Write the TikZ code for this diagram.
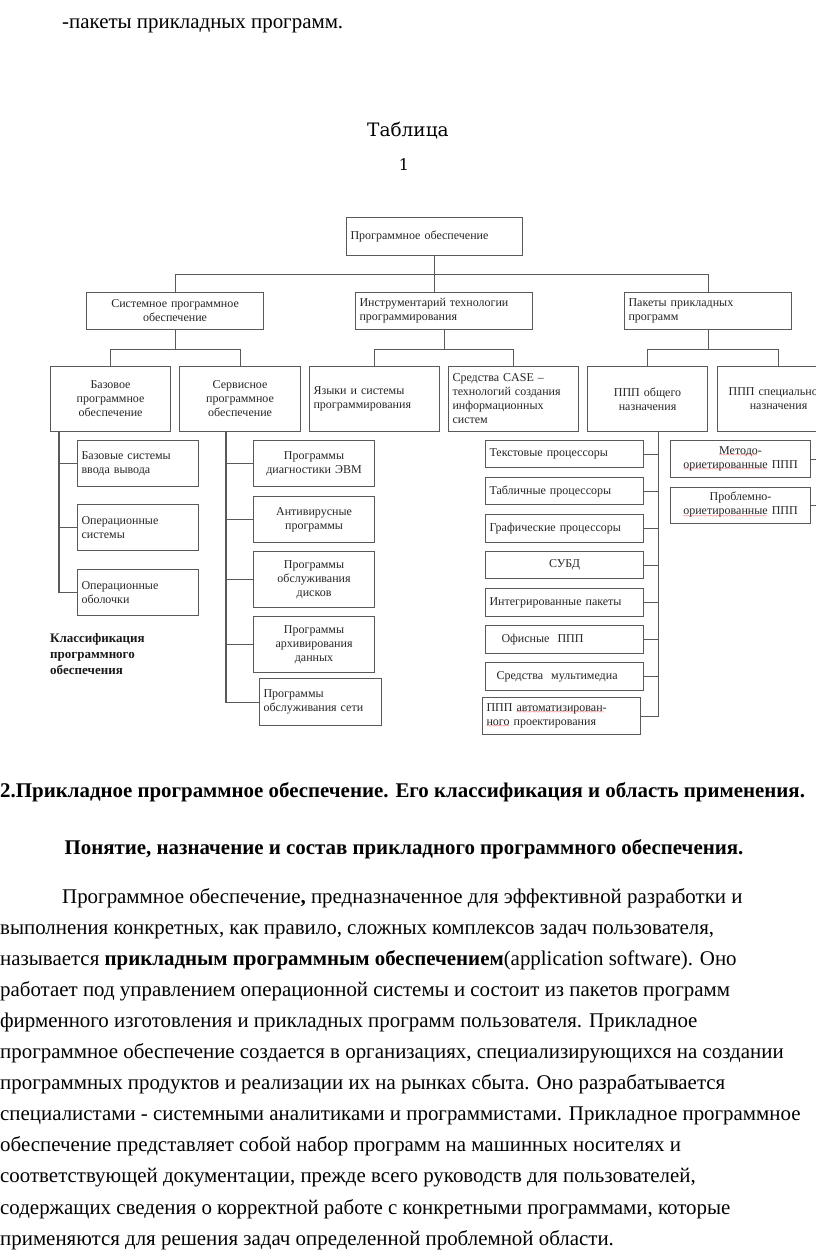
\documentclass[tikz,border=0pt]{standalone}
\usepackage{fontspec}
\setmainfont{Liberation Serif}
\newfontfamily\capfont{DejaVu Serif}
\usetikzlibrary{positioning}

% red spell-check squiggle under a word
\newcommand\spellwave[1]{\leavevmode\setbox0\hbox{#1}\rlap{\lower3.8pt\hbox to \wd0{\color{red!80}\leaders\hbox{\fontsize{7}{7}\selectfont\char"007E}\hfill}}#1}

\begin{document}
\begin{tikzpicture}[x=1pt, y=-1pt,
    box/.style={draw=black!65, line width=1.1pt, anchor=north west, inner xsep=4pt, inner ysep=1pt,
        font=\fontsize{12}{14}\selectfont, text=black!85, align=center},
    lbox/.style={box, align=left},
    link/.style={draw=black!65, line width=1.1pt},
    body/.style={anchor=base west, inner sep=0pt, font=\fontsize{20.9}{31}\selectfont},
    head/.style={body, font=\bfseries\fontsize{20.9}{31}\selectfont},
]
    \fill[white] (0,0) rectangle (816,1258);
    \useasboundingbox (0,0) rectangle (816,1258);

    % Text above the scheme
    \node[body] (l0) at (62,28) {-пакеты прикладных программ.};
    \node[font=\capfont\fontsize{18.5}{22}\selectfont] (tabcap) at (408,131) {Таблица};
    \node[font=\capfont\fontsize{16}{20}\selectfont] (tabnum) at (404,165) {1};

    % Level 1
    \node[lbox, text width=168pt, minimum height=38pt] (po) at (346,217) {Программное обеспечение};

    % Level 2
    \node[box, text width=169pt, minimum height=37pt] (sys) at (86,292) {Системное программное\\обеспечение};
    \node[lbox, text width=169pt, minimum height=37pt] (instr) at (355,292) {Инструментарий технологии\\программирования};
    \node[lbox, text width=159pt, minimum height=37pt] (pkt) at (624,292) {Пакеты прикладных\\программ};

    % Level 3
    \node[box, text width=112pt, minimum height=65pt] (base) at (50,366) {Базовое\\программное\\обеспечение};
    \node[box, text width=113pt, minimum height=65pt] (serv) at (179,366) {Сервисное\\программное\\обеспечение};
    \node[lbox, text width=122pt, minimum height=65pt] (lang) at (309,366) {Языки и системы\\программирования};
    \node[lbox, text width=122pt, minimum height=65pt] (cases) at (448,366) {Средства CASE –\\технологий создания\\информационных\\систем};
    \node[box, text width=112pt, minimum height=65pt] (pppob) at (587,366) {ППП общего\\назначения};
    \node[box, text width=114pt, minimum height=65pt] (pppsp) at (717,366) {ППП специального\\назначения};

    % Base software
    \node[lbox, text width=113pt, minimum height=46pt] (bios) at (77,440) {Базовые системы\\ввода вывода};
    \node[lbox, text width=113pt, minimum height=46pt] (os) at (77,504) {Операционные\\системы};
    \node[lbox, text width=113pt, minimum height=46pt] (shell) at (77,569) {Операционные\\оболочки};
    \node[anchor=north west, align=left, inner sep=0pt, font=\bfseries\fontsize{13}{16}\selectfont, text=black!90] (klass) at (50,633)
        {Классификация\\программного\\обеспечения};

    % Service software
    \node[box, text width=113pt, minimum height=46pt] (diag) at (253,440) {Программы\\диагностики ЭВМ};
    \node[box, text width=113pt, minimum height=46pt] (antiv) at (253,496) {Антивирусные\\программы};
    \node[box, text width=113pt, minimum height=56pt] (disk) at (253,551) {Программы\\обслуживания\\дисков};
    \node[box, text width=113pt, minimum height=56pt] (arch) at (253,616) {Программы\\архивирования\\данных};
    \node[lbox, text width=114pt, minimum height=47pt] (net) at (259,678) {Программы\\обслуживания сети};

    % General purpose packages
    \node[lbox, text width=150pt, minimum height=27pt] (txt) at (485,440) {Текстовые процессоры};
    \node[lbox, text width=150pt, minimum height=27pt] (spread) at (485,477) {Табличные процессоры};
    \node[lbox, text width=150pt, minimum height=28pt] (graph) at (485,514) {Графические процессоры};
    \node[box, text width=150pt, minimum height=27pt] (dbms) at (485,551) {СУБД};
    \node[lbox, text width=150pt, minimum height=28pt] (integ) at (485,588) {Интегрированные пакеты};
    \node[lbox, text width=150pt, minimum height=28pt] (office) at (485,625) {\hspace*{12pt}Офисные\ \ ППП};
    \node[lbox, text width=150pt, minimum height=28pt] (media) at (485,662) {\hspace*{7pt}Средства\ \ мультимедиа};
    \node[lbox, text width=150pt, minimum height=37pt] (auto) at (482,697) {ППП \spellwave{автоматизирован-}\\\spellwave{ного} проектирования};

    % Special purpose packages
    \node[box, text width=132pt, minimum height=37pt] (metod) at (670,440) {\spellwave{Методо}-\\\spellwave{ориетированные} ППП};
    \node[box, text width=132pt, minimum height=36pt] (probl) at (670,487) {Проблемно-\\\spellwave{ориетированные} ППП};

    % Connectors
    \draw[link] (po.south) -- (po.south |- instr.north);
    \draw[link] (sys.north) |- ([yshift=-18pt]po.south) -| (pkt.north);
    \draw[link] (sys.south) -- ++(0,19);
    \draw[link] (base.north) |- ([yshift=-19pt]sys.south) -| (serv.north);
    \draw[link] (instr.south) -- ++(0,19);
    \draw[link] (lang.north) |- ([yshift=-19pt]instr.south) -| (cases.north);
    \draw[link] (pkt.south) -- ++(0,19);
    \draw[link] (pppob.north) |- ([yshift=-19pt]pkt.south) -| (pppsp.north);

    \coordinate (bv) at ([xshift=9pt]base.south west);
    \foreach \n in {bios,os,shell}
        \draw[link] (bv) |- (\n.west);
    \coordinate (sv) at ([xshift=47pt]serv.south west);
    \foreach \n in {diag,antiv,disk,arch,net}
        \draw[link] (sv) |- (\n.west);
    \coordinate (pv) at ([xshift=11pt]pppob.south);
    \foreach \n in {txt,spread,graph,dbms,integ,office,media,auto}
        \draw[link] (pv) |- (\n.east);
    \coordinate (qv) at ([xshift=45pt]pppsp.south);
    \foreach \n in {metod,probl}
        \draw[link] (qv) |- (\n.east);

    % Text below the scheme
    \node[head] (h1) at (0,797) {2.Прикладное программное обеспечение. Его классификация и область применения.};
    \node[head, anchor=base] (h2) at (404,854) {Понятие, назначение и состав прикладного программного обеспечения.};

    \node[body] (b1) at (62,903) {Программное обеспечение\textbf{,} предназначенное для эффективной разработки и};
    \foreach \t [count=\i from 2] in {
        {выполнения конкретных, как правило, сложных комплексов задач пользователя,},
        {называется \textbf{прикладным программным обеспечением}(application software). Оно},
        {работает под управлением операционной системы и состоит из пакетов программ},
        {фирменного изготовления и прикладных программ пользователя. Прикладное},
        {программное обеспечение создается в организациях, специализирующихся на создании},
        {программных продуктов и реализации их на рынках сбыта. Оно разрабатывается},
        {специалистами - системными аналитиками и программистами. Прикладное программное},
        {обеспечение представляет собой набор программ на машинных носителях и},
        {соответствующей документации, прежде всего руководств для пользователей,},
        {содержащих сведения о корректной работе с конкретными программами, которые},
        {применяются для решения задач определенной проблемной области.}}
        \node[body] (b\i) at (0,{903+31.1*(\i-1)}) {\t};
\end{tikzpicture}
\end{document}
